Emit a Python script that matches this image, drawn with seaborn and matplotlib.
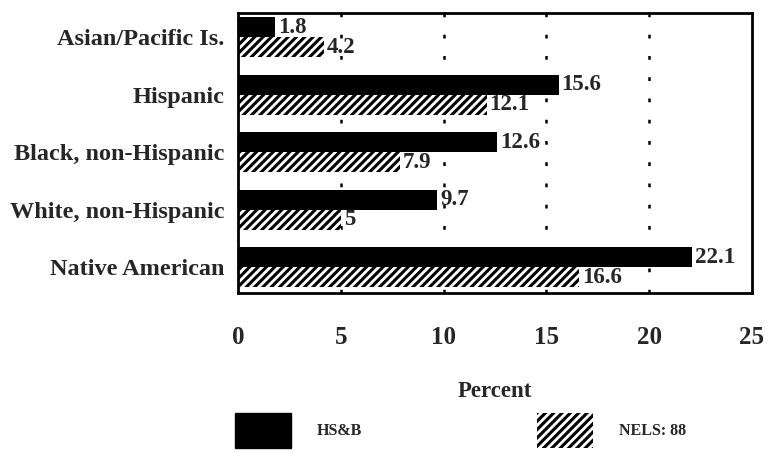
import pandas as pd
import matplotlib
matplotlib.use("Agg")
import matplotlib.pyplot as plt
import seaborn as sns
from matplotlib.patches import Patch

# data
groups = ["Asian/Pacific Is.", "Hispanic", "Black, non-Hispanic",
          "White, non-Hispanic", "Native American"]
hsb = [1.8, 15.6, 12.6, 9.7, 22.1]
nels = [4.2, 12.1, 7.9, 5, 16.6]
series = ["HS&B", "NELS: 88"]
xticks = [0, 5, 10, 15, 20, 25]

df = pd.DataFrame({
    "group": groups * 2,
    "value": hsb + nels,
    "survey": [series[0]] * len(groups) + [series[1]] * len(groups),
})

sns.set_style("white")
plt.rcParams["font.family"] = ["Liberation Serif", "DejaVu Serif"]
plt.rcParams["hatch.linewidth"] = 2.2

fig = plt.figure(figsize=(7.68, 4.53), dpi=100)
ax = fig.add_axes([0.31, 0.353, 0.669, 0.618])

sns.barplot(data=df, y="group", x="value", hue="survey", order=groups,
            hue_order=series, orient="h", width=0.7, ax=ax,
            palette=["black", "white"], legend=False, saturation=1)

# hatch the NELS bars
for p in ax.containers[1]:
    p.set_hatch("////")
    p.set_edgecolor("black")
    p.set_linewidth(0)
for p in ax.containers[0]:
    p.set_linewidth(0)

for c in ax.containers:
    ax.bar_label(c, fmt="%g", padding=2, fontsize=16.5, fontweight="bold")

ax.set_xlim(0, 25)
ax.set_ylim(4.45, -0.42)
ax.set_xticks(xticks)
ax.set_xticklabels([str(t) for t in xticks], fontsize=18, fontweight="bold")
ax.tick_params(axis="x", length=0, pad=24)
ax.tick_params(axis="y", length=0, pad=10, labelsize=17.5)
for lab in ax.get_yticklabels():
    lab.set_fontweight("bold")
ax.set_ylabel("")
ax.set_xlabel("Percent", fontsize=16.5, fontweight="bold", labelpad=23)

# dotted grid at 5..20
for g in xticks[1:-1]:
    ax.axvline(g, color="black", linestyle=(0, (1.5, 7)), linewidth=1.8, zorder=0)

for s in ax.spines.values():
    s.set_visible(True)
    s.set_color("black")
    s.set_linewidth(2)

handles = [Patch(facecolor="black", edgecolor="black", label=series[0]),
           Patch(facecolor="white", edgecolor="black", hatch="////",
                 linewidth=0, label=series[1])]
fig.legend(handles=handles, loc="lower left", bbox_to_anchor=(0.287, -0.02),
           ncol=2, frameon=False, prop={"size": 11.5, "weight": "bold"},
           handlelength=3.5, handleheight=3.0, handletextpad=1.6,
           columnspacing=11.0)

fig.savefig("out.png", dpi=100)
